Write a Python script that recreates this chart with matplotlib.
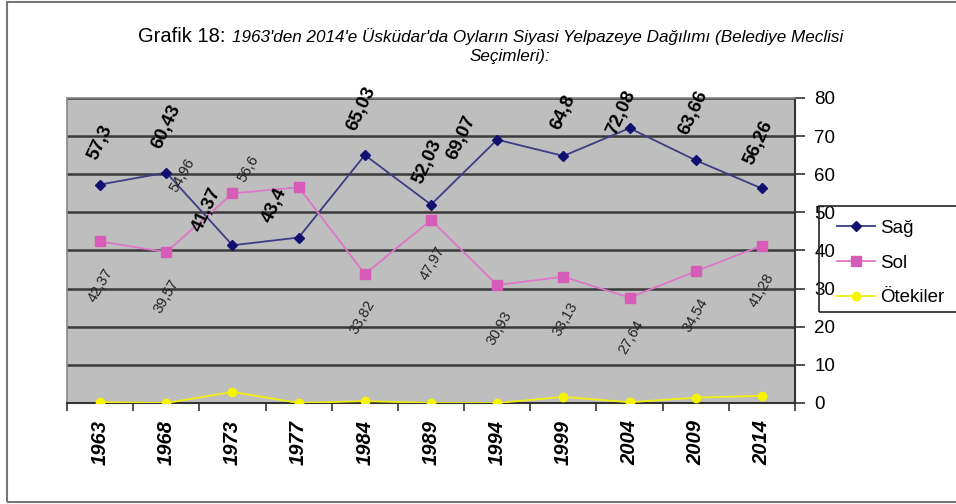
import numpy as np
import matplotlib
matplotlib.use('Agg')
import matplotlib.pyplot as plt
from matplotlib.patches import Rectangle

plt.rcParams['font.family'] = ['Liberation Sans', 'DejaVu Sans']

years = ['1963', '1968', '1973', '1977', '1984', '1989', '1994', '1999', '2004', '2009', '2014']
sag = [57.3, 60.43, 41.37, 43.4, 65.03, 52.03, 69.07, 64.8, 72.08, 63.66, 56.26]
sol = [42.37, 39.57, 54.96, 56.6, 33.82, 47.97, 30.93, 33.13, 27.64, 34.54, 41.28]
otekiler = [0.2, 0.0, 2.9, 0.0, 0.5, 0.0, 0.0, 1.6, 0.2, 1.4, 1.9]

# label offsets in pixels (dx, dy) from each point
sag_off = [(0, 42), (0, 46), (-26, 36), (-24, 32), (-3, 46), (-3, 43),
           (-36, 2), (0, 44), (-8, 16), (-2, 48), (-3, 46)]
sol_off = [(0, -44), (0, -44), (-50, 18), (-50, 18), (-2, -43), (2, -43),
           (2, -43), (2, -43), (2, -40), (0, -44), (0, -45)]

fig = plt.figure(figsize=(9.56, 5.04), dpi=100)
ax = fig.add_axes([0.0701, 0.2004, 0.7615, 0.6052])
ax.set_facecolor('#bebebe')

x = np.arange(len(years))
ax.plot(x, sag, color='#3d3d85', lw=1.3, marker='D', ms=5,
        mfc='#101070', mec='#101070', label='Sağ', zorder=4)
ax.plot(x, sol, color='#dd77c8', lw=1.3, marker='s', ms=7,
        mfc='#d65cb8', mec='#d65cb8', label='Sol', zorder=4)
ax.plot(x, otekiler, color='#eeee10', lw=1.3, marker='o', ms=6,
        mfc='#f5f500', mec='#f5f500', label='Ötekiler', zorder=4)

for i, v in enumerate(sag):
    ax.annotate(f'{v:g}'.replace('.', ','), (x[i], v), xytext=sag_off[i],
                textcoords='offset pixels', ha='center', va='center',
                rotation=65, fontsize=13.5, fontweight='bold', zorder=5)
for i, v in enumerate(sol):
    ax.annotate(f'{v:g}'.replace('.', ','), (x[i], v), xytext=sol_off[i],
                textcoords='offset pixels', ha='center', va='center',
                rotation=60, fontsize=10.5, color='#222222', zorder=5)

ax.set_xlim(-0.5, len(years) - 0.5)
ax.set_ylim(0, 80)
ax.set_yticks(np.arange(0, 81, 10))
ax.yaxis.tick_right()
ax.tick_params(axis='y', direction='out', length=7, width=1.2, color='#333333',
               labelsize=13.5, pad=7)
ax.grid(axis='y', color='#3a3a3a', lw=1.8)
ax.set_axisbelow(True)

ax.set_xticks(x)
ax.set_xticklabels(years, rotation=90, fontsize=14.5, fontweight='bold', fontstyle='italic')
ax.tick_params(axis='x', length=0, pad=12)
ax.set_xticks(np.arange(-0.5, len(years), 1), minor=True)
ax.tick_params(axis='x', which='minor', direction='out', length=6, width=1.2, color='#333333')

for s in ['left', 'top']:
    ax.spines[s].set_color('#888888')
    ax.spines[s].set_linewidth(1.2)
for s in ['right', 'bottom']:
    ax.spines[s].set_color('#333333')
    ax.spines[s].set_linewidth(1.5)

# chart title
fig.text(0.1444, 0.9266, 'Grafik 18:', fontsize=14.5, ha='left', va='center')
fig.text(0.2427, 0.9266,
         "1963'den 2014'e Üsküdar'da Oyların Siyasi Yelpazeye Dağılımı (Belediye Meclisi",
         fontsize=12.3, fontstyle='italic', ha='left', va='center')
fig.text(0.533, 0.887, 'Seçimleri):', fontsize=12.3, fontstyle='italic', ha='center',
         va='center')

# legend with its box running off the right edge
fig.patches.append(Rectangle((0.8567, 0.381), 0.3, 0.21, transform=fig.transFigure,
                             fill=False, ec='#222222', lw=1.2))
fig.legend(loc='upper left', bbox_to_anchor=(0.858, 0.598), frameon=False,
           fontsize=13.5, handlelength=2.0, labelspacing=0.95, handletextpad=0.3)

# outer chart border
fig.patches.append(Rectangle((0.0073, 0.004), 1.2, 0.992, transform=fig.transFigure,
                             fill=False, ec='#777777', lw=1.5))

fig.savefig('out.png', dpi=100)
